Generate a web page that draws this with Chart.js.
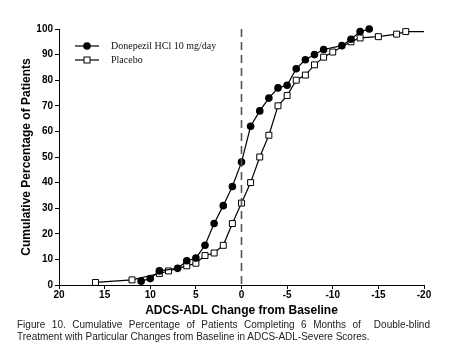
<!DOCTYPE html>
<html lang="en">
<head>
  <meta charset="UTF-8">
  <title>ADCS-ADL Cumulative Percentage</title>
  <style>
    body {
      margin: 0;
      background: #ffffff;
    }

    .wrap {
      position: relative;
      width: 472px;
      height: 359px;
    }

    #chart {
      position: absolute;
      left: 0;
      top: 0;
    }

    .caption {
      position: absolute;
      left: 17px;
      top: 319px;
      width: 413px;
      font-family: Arial, "Liberation Sans", sans-serif;
      font-size: 10px;
      line-height: 12px;
      color: #222222;
    }

    .caption .first {
      display: block;
      text-align: justify;
      text-align-last: justify;
    }
  </style>
</head>
<body>

<div class="wrap">
  <canvas id="chart" width="472" height="320"></canvas>
  <div class="caption">
    <span class="first">Figure 10. Cumulative Percentage of Patients Completing 6 Months of &nbsp;Double-blind</span>
    Treatment with Particular Changes from Baseline in ADCS-ADL-Severe Scores.
  </div>
</div>

<script src="https://cdn.jsdelivr.net/npm/chart.js"></script>
<script>
  // values
  const donepezilChange = [11, 10, 9, 7, 6, 5, 4, 3, 2, 1, 0, -1, -2, -3, -4, -5, -6, -7, -8, -9, -11, -12, -13, -14];
  const donepezilPct = [1.5, 2.5, 5.5, 6.5, 9.5, 10.5, 15.5, 24, 31, 38.5, 48, 62, 68, 73, 77, 78, 84.5, 88, 90, 92, 93.5, 96, 99, 100];

  const placeboChange = [16, 12, 9, 8, 6, 5, 4, 3, 2, 1, 0, -1, -2, -3, -4, -5, -6, -7, -8, -9, -10, -12, -13, -15, -17, -18, -20];
  const placeboPct = [1, 2, 4.5, 5.5, 7.5, 8.5, 11.5, 12.5, 15.5, 24, 32, 40, 50, 58.5, 70, 74, 80, 82, 86, 89, 91, 95, 96.5, 97, 98, 99, 99];

  const seriesNames = ['Donepezil HCl 10 mg/day', 'Placebo'];
  const xTitle = 'ADCS-ADL Change from Baseline';
  const yTitle = 'Cumulative Percentage of Patients';

  function toPoints(xs, ys) {
    return xs.map((x, i) => ({ x: x, y: ys[i] }));
  }

  // dashed line at zero change + legend inside the plot
  const extras = {
    id: 'extras',
    afterDatasetsDraw(chart) {
      const ctx = chart.ctx;
      const area = chart.chartArea;
      const x0 = chart.scales.x.getPixelForValue(0);

      ctx.save();
      ctx.strokeStyle = '#555555';
      ctx.lineWidth = 1.6;
      ctx.setLineDash([8, 5]);
      ctx.beginPath();
      ctx.moveTo(x0, area.top);
      ctx.lineTo(x0, area.bottom);
      ctx.stroke();
      ctx.setLineDash([]);

      // legend
      const rows = [46, 60];
      ctx.lineWidth = 1.2;
      ctx.strokeStyle = '#000';
      rows.forEach((y, i) => {
        ctx.beginPath();
        ctx.moveTo(75, y);
        ctx.lineTo(99, y);
        ctx.stroke();
        if (i === 0) {
          ctx.fillStyle = '#000';
          ctx.beginPath();
          ctx.arc(87, y, 3.8, 0, Math.PI * 2);
          ctx.fill();
        } else {
          ctx.fillStyle = '#fff';
          ctx.fillRect(84, y - 3, 6, 6);
          ctx.lineWidth = 1;
          ctx.strokeRect(84, y - 3, 6, 6);
        }
        ctx.fillStyle = '#111';
        ctx.font = '10px "Liberation Serif", "Times New Roman", serif';
        ctx.textBaseline = 'middle';
        ctx.fillText(seriesNames[i], 111, y);
      });
      ctx.restore();
    }
  };

  const tickFont = { family: 'Arial, "Liberation Sans", sans-serif', size: 10, weight: 'bold' };
  const lastPlacebo = placeboChange.length - 1;

  new Chart(document.getElementById('chart'), {
    type: 'scatter',
    data: {
      datasets: [
        {
          label: seriesNames[0],
          data: toPoints(donepezilChange, donepezilPct),
          showLine: true,
          borderColor: '#000',
          borderWidth: 1.2,
          pointStyle: 'circle',
          pointRadius: 3.8,
          pointBackgroundColor: '#000',
          pointBorderColor: '#000',
          pointBorderWidth: 0,
          clip: false
        },
        {
          label: seriesNames[1],
          data: toPoints(placeboChange, placeboPct),
          showLine: true,
          borderColor: '#000',
          borderWidth: 1.2,
          pointStyle: 'rect',
          pointRadius: ctx => ctx.dataIndex === lastPlacebo ? 0 : 4.2,
          pointBackgroundColor: '#fff',
          pointBorderColor: '#000',
          pointBorderWidth: 1,
          clip: false
        }
      ]
    },
    options: {
      responsive: false,
      animation: false,
      layout: { padding: { top: 29, right: 48, left: 0, bottom: 0 } },
      plugins: {
        legend: { display: false },
        tooltip: { enabled: false }
      },
      scales: {
        x: {
          type: 'linear',
          min: -20,
          max: 20,
          reverse: true,
          afterFit(scale) { scale.height = 35; },
          ticks: { stepSize: 5, color: '#000', font: tickFont, padding: 0, maxRotation: 0 },
          grid: { drawOnChartArea: false, tickLength: 4, color: '#000', tickWidth: 1 },
          border: { display: true, color: '#000', width: 1 },
          title: {
            display: true,
            text: xTitle,
            color: '#000',
            font: { family: 'Arial, "Liberation Sans", sans-serif', size: 12, weight: 'bold' },
            padding: { top: 0, bottom: 2 }
          }
        },
        y: {
          min: 0,
          max: 100,
          afterFit(scale) { scale.width = 59; },
          ticks: { stepSize: 10, color: '#000', font: tickFont, padding: 2 },
          grid: { drawOnChartArea: false, tickLength: 4, color: '#000', tickWidth: 1 },
          border: { display: true, color: '#000', width: 1 },
          title: {
            display: true,
            text: yTitle,
            color: '#000',
            font: { family: 'Arial, "Liberation Sans", sans-serif', size: 12, weight: 'bold' },
            padding: { top: 19, bottom: 0 }
          }
        }
      }
    },
    plugins: [extras]
  });
</script>
</body>
</html>
